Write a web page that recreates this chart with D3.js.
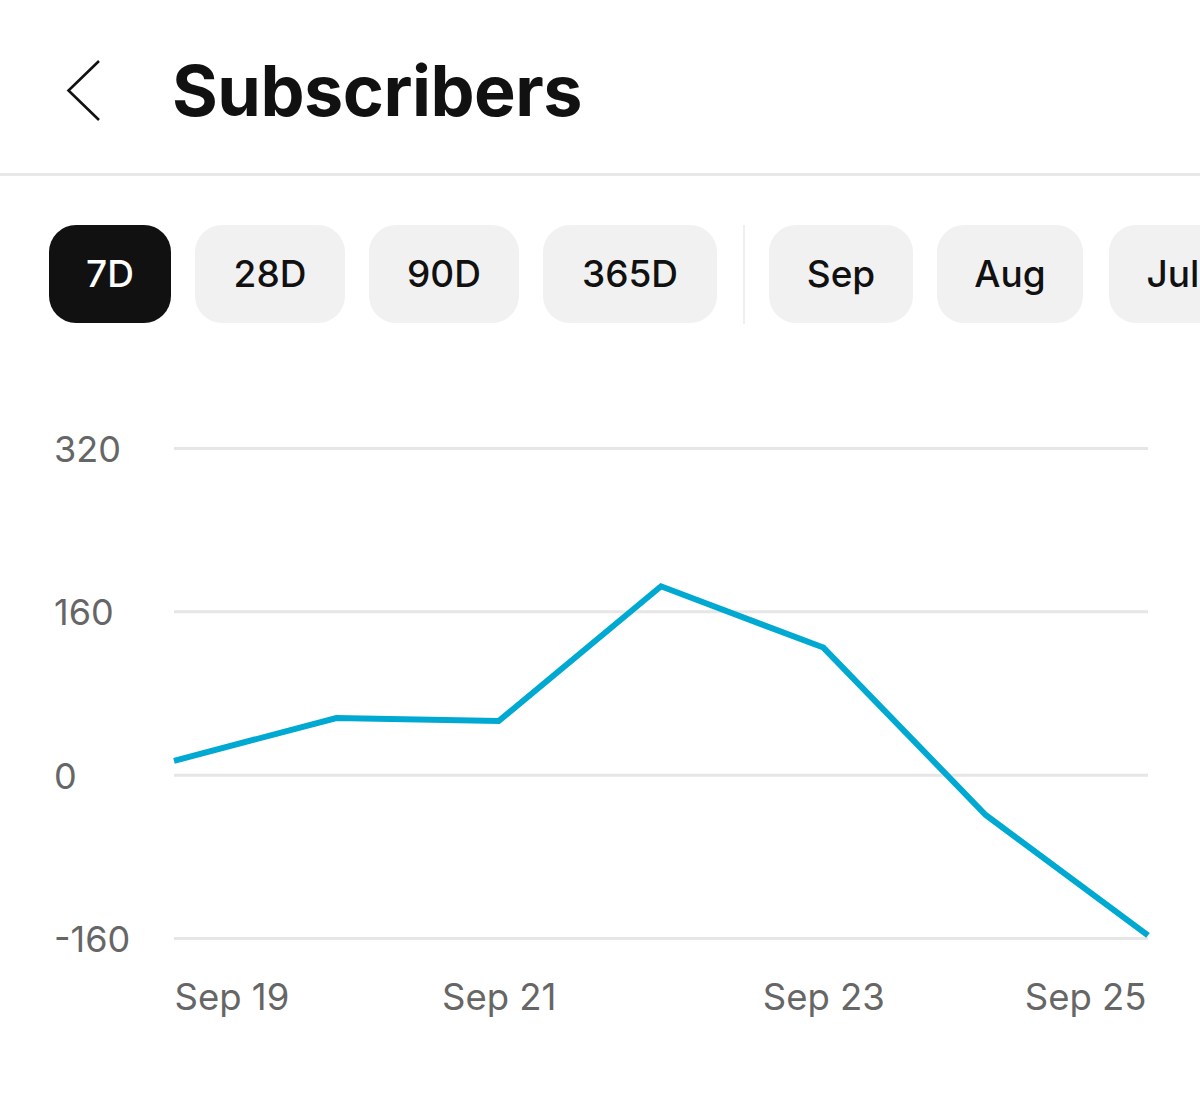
<!DOCTYPE html>
<html>
<head>
<meta charset="utf-8">
<script src="https://cdn.jsdelivr.net/npm/d3@7"></script>
<style>
  html, body { margin: 0; padding: 0; background: #fff; }
  svg { display: block; font-family: Inter, "Liberation Sans", sans-serif; }
</style>
</head>
<body>
<div id="chart"></div>
<script>
const dates = ["Sep 19", "Sep 20", "Sep 21", "Sep 22", "Sep 23", "Sep 24", "Sep 25"];
const subscribers = [14, 56, 53, 185, 125, -39, -157];
const yTicks = [-160, 0, 160, 320];
const xTicks = ["Sep 19", "Sep 21", "Sep 23", "Sep 25"];
const rangeButtons = ["7D", "28D", "90D", "365D"];
const monthButtons = ["Sep", "Aug", "Jul"];

const width = 1200, height = 1099;
const svg = d3.select("#chart").append("svg")
  .attr("width", width).attr("height", height);

// ------- header -------
svg.append("path")
  .attr("d", "M99,61 L68.5,90.5 L99,120")
  .attr("fill", "none").attr("stroke", "#111").attr("stroke-width", 2.6);

svg.append("text")
  .attr("x", 172).attr("y", 116)
  .attr("fill", "#111")
  .style("font-size", "70px").style("font-weight", 700).style("letter-spacing", "-0.5px")
  .text("Subscribers");

svg.append("rect")
  .attr("x", 0).attr("y", 173).attr("width", width).attr("height", 3)
  .attr("fill", "#e8e8e8");

// ------- filter buttons -------
const drawButton = (label, x0, w, active) => {
  svg.append("rect")
    .attr("x", x0).attr("y", 225).attr("width", w).attr("height", 98).attr("rx", 27)
    .attr("fill", active ? "#111" : "#f1f1f1");
  svg.append("text")
    .attr("x", x0 + w / 2).attr("y", 287)
    .attr("text-anchor", "middle")
    .attr("fill", active ? "#fff" : "#111")
    .style("font-size", "37px").style("font-weight", 500)
    .text(label);
};
const rangeX = [49, 195, 369, 543], rangeW = [122, 150, 150, 174];
rangeButtons.forEach((b, i) => drawButton(b, rangeX[i], rangeW[i], i === 0));
const monthX = [769, 937, 1109], monthW = [144, 146, 128];
monthButtons.forEach((b, i) => drawButton(b, monthX[i], monthW[i], false));

svg.append("rect")
  .attr("x", 743).attr("y", 225).attr("width", 2).attr("height", 99)
  .attr("fill", "#efefef");

// ------- chart -------
const x = d3.scalePoint().domain(dates).range([174, 1148]);
const y = d3.scaleLinear().domain([-160, 320]).range([938.5, 448.5]);

const yAxis = d3.axisLeft(y).tickValues(yTicks).tickSize(0).tickPadding(0)
  .tickFormat(d => String(d));
svg.append("g")
  .call(yAxis)
  .call(g => g.select(".domain").remove())
  .call(g => g.selectAll("text")
    .attr("text-anchor", "start")
    .attr("x", 54)
    .attr("dy", "0.36em")
    .attr("fill", "#666")
    .style("font-size", "36px").style("font-family", "Inter, sans-serif"));

svg.append("g")
  .selectAll("line")
  .data(yTicks)
  .enter()
  .append("line")
  .attr("x1", 174).attr("x2", 1148)
  .attr("y1", d => y(d)).attr("y2", d => y(d))
  .attr("stroke", "#e6e6e6").attr("stroke-width", 3);

const xAxis = d3.axisBottom(x).tickValues(xTicks).tickSize(0).tickPadding(0);
svg.append("g")
  .attr("transform", "translate(0,1010)")
  .call(xAxis)
  .call(g => g.select(".domain").remove())
  .call(g => g.selectAll("text")
    .attr("y", 0).attr("dy", 0)
    .attr("dx", d => d === xTicks[3] ? -2 : 0)
    .attr("text-anchor", d => d === xTicks[0] ? "start" : d === xTicks[3] ? "end" : "middle")
    .attr("fill", "#666")
    .style("font-size", "36.5px").style("font-family", "Inter, sans-serif"));

const line = d3.line()
  .x((d, i) => x(dates[i]))
  .y(d => y(d));

svg.append("path")
  .datum(subscribers)
  .attr("d", line)
  .attr("fill", "none")
  .attr("stroke", "#00a9d1")
  .attr("stroke-width", 6)
  .attr("stroke-linejoin", "miter");
</script>
</body>
</html>
